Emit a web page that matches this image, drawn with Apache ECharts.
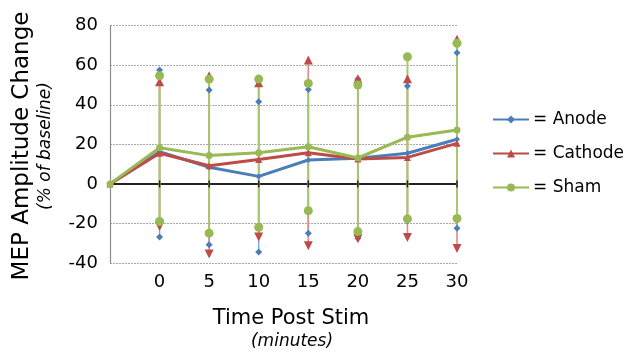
<!DOCTYPE html>
<html>
<head>
<meta charset="utf-8">
<script src="https://cdn.jsdelivr.net/npm/echarts@6/dist/echarts.min.js"></script>
<style>
  html, body { margin: 0; padding: 0; background: #fff; }
  #chart { width: 632px; height: 354px; }
</style>
</head>
<body>
<div id="chart"></div>
<script>
// Time points (first slot is the pre-stim baseline)
const categories = ['', '0', '5', '10', '15', '20', '25', '30'];
const yTicks = [-40, -20, 0, 20, 40, 60, 80];

// Mean MEP amplitude change (% of baseline)
const anodeMean   = [0, 16.3, 8.4, 3.8, 12.1, 13.0, 15.5, 22.6];
const cathodeMean = [0, 15.5, 9.2, 12.3, 15.8, 12.6, 13.4, 20.5];
const shamMean    = [0, 18.3, 14.3, 15.8, 18.8, 13.1, 23.6, 27.3];

// Error bar ends for the post-stim time points (0 .. 30 min)
const anodeHigh   = [57.6, 47.5, 41.6, 47.8, 53.0, 49.5, 66.3];
const anodeLow    = [-26.9, -30.8, -34.5, -24.9, -27.5, -18.7, -22.4];
const cathodeHigh = [51.7, 54.7, 51.2, 62.6, 53.2, 53.2, 73.1];
const cathodeLow  = [-21.5, -35.5, -26.9, -31.3, -27.8, -27.1, -32.7];
const shamHigh    = [54.7, 53.0, 53.0, 50.8, 50.0, 64.3, 71.1];
const shamLow     = [-19.0, -24.9, -21.9, -13.6, -24.1, -17.7, -17.5];

const BLUE = '#4a7ebb', RED = '#be4b48', GREEN = '#98b954';
const BLUE_BAR = '#7fa6d8', RED_BAR = '#dc8a88', GREEN_BAR = '#a9c86e';
const FONT = 'DejaVu Sans';

function barData(low, high) {
  return low.map((v, i) => [i + 1, v, high[i]]);
}
function endPoints(vals) {
  return vals.map((v, i) => [i + 1, v]);
}

function errorBars(name, low, high, color, width, z) {
  return {
    type: 'custom',
    name: name + ' range',
    z: z,
    silent: true,
    data: barData(low, high),
    renderItem: function (params, api) {
      const p0 = api.coord([api.value(0), api.value(1)]);
      const p1 = api.coord([api.value(0), api.value(2)]);
      return {
        type: 'line',
        shape: { x1: p0[0], y1: p0[1], x2: p1[0], y2: p1[1] },
        style: { stroke: color, lineWidth: width }
      };
    }
  };
}

function ends(vals, symbol, size, color, rotate, z) {
  return {
    type: 'scatter',
    data: endPoints(vals),
    symbol: symbol,
    symbolSize: size,
    symbolRotate: rotate,
    z: z,
    silent: true,
    itemStyle: { color: color, opacity: 1 }
  };
}

function meanLine(name, data, color, symbol, size) {
  return {
    type: 'line',
    name: name,
    data: data,
    z: 10,
    symbol: symbol,
    symbolSize: size,
    showSymbol: true,
    lineStyle: { color: color, width: 3 },
    itemStyle: { color: color },
    emphasis: { disabled: true }
  };
}

// Short tick marks crossing the zero line at each post-stim time point
const zeroTicks = {
  type: 'custom',
  silent: true,
  z: 8,
  data: categories.slice(1).map((c, i) => [i + 1, 0]),
  renderItem: function (params, api) {
    const p = api.coord([api.value(0), api.value(1)]);
    return {
      type: 'line',
      shape: { x1: p[0], y1: p[1] - 3.5, x2: p[0], y2: p[1] + 3.5 },
      style: { stroke: '#222', lineWidth: 1.5 }
    };
  }
};

const chart = echarts.init(document.getElementById('chart'));
chart.setOption({
  animation: false,
  grid: { left: 110, right: 175, top: 25.7, bottom: 91, containLabel: false },
  legend: {
    data: ['Anode', 'Cathode', 'Sham'],
    orient: 'vertical',
    left: 487,
    top: 106,
    itemWidth: 36,
    itemHeight: 10,
    itemGap: 17,
    formatter: '= {name}',
    textStyle: { fontFamily: FONT, fontSize: 17, color: '#000', padding: [0, 0, 0, -1] }
  },
  xAxis: [
    {
      // time labels along the bottom edge
      type: 'category',
      data: categories,
      boundaryGap: false,
      position: 'bottom',
      axisLine: { show: false, onZero: false },
      axisTick: { show: false },
      axisLabel: { fontFamily: FONT, fontSize: 18, color: '#000', margin: 10 },
      splitLine: { show: false }
    },
    {
      // zero reference line
      type: 'category',
      data: categories,
      boundaryGap: false,
      position: 'bottom',
      axisLine: { show: true, onZero: true, lineStyle: { color: '#222', width: 2 } },
      axisTick: { show: false },
      axisLabel: { show: false },
      splitLine: { show: false }
    }
  ],
  yAxis: {
    type: 'value',
    min: yTicks[0],
    max: yTicks[yTicks.length - 1],
    interval: 20,
    axisLine: { show: true, lineStyle: { color: '#8c8c8c', width: 1.2 } },
    axisTick: { show: false },
    axisLabel: { fontFamily: FONT, fontSize: 18, color: '#000', margin: 12 },
    splitLine: { show: true, lineStyle: { color: '#a8a8a8', type: [2, 1], width: 1 } }
  },
  graphic: [
    {
      type: 'text', x: 22, y: 146, rotation: Math.PI / 2,
      style: { text: 'MEP Amplitude Change', font: '23px "DejaVu Sans"', fill: '#000',
               textAlign: 'center', textVerticalAlign: 'middle' }
    },
    {
      type: 'text', x: 46, y: 146, rotation: Math.PI / 2,
      style: { text: '(% of baseline)', font: 'italic 17px "DejaVu Sans"', fill: '#000',
               textAlign: 'center', textVerticalAlign: 'middle' }
    },
    {
      type: 'text', x: 291, y: 319,
      style: { text: 'Time Post Stim', font: '21px "DejaVu Sans"', fill: '#000',
               textAlign: 'center', textVerticalAlign: 'middle' }
    },
    {
      type: 'text', x: 292, y: 342,
      style: { text: '(minutes)', font: 'italic 17px "DejaVu Sans"', fill: '#000',
               textAlign: 'center', textVerticalAlign: 'middle' }
    }
  ],
  series: [
    zeroTicks,
    errorBars('Anode', anodeLow, anodeHigh, BLUE_BAR, 1.4, 2),
    errorBars('Cathode', cathodeLow, cathodeHigh, RED_BAR, 1.6, 3),
    errorBars('Sham', shamLow, shamHigh, GREEN_BAR, 2, 4),
    ends(anodeHigh, 'diamond', 7, BLUE, 0, 5),
    ends(anodeLow, 'diamond', 7, BLUE, 0, 5),
    ends(cathodeHigh, 'triangle', 9, RED, 0, 6),
    ends(cathodeLow, 'triangle', 9, RED, 180, 6),
    ends(shamHigh, 'circle', 9, GREEN, 0, 7),
    ends(shamLow, 'circle', 9, GREEN, 0, 7),
    meanLine('Anode', anodeMean, BLUE, 'diamond', 6),
    meanLine('Cathode', cathodeMean, RED, 'triangle', 7),
    meanLine('Sham', shamMean, GREEN, 'circle', 7)
  ]
});
</script>
</body>
</html>
